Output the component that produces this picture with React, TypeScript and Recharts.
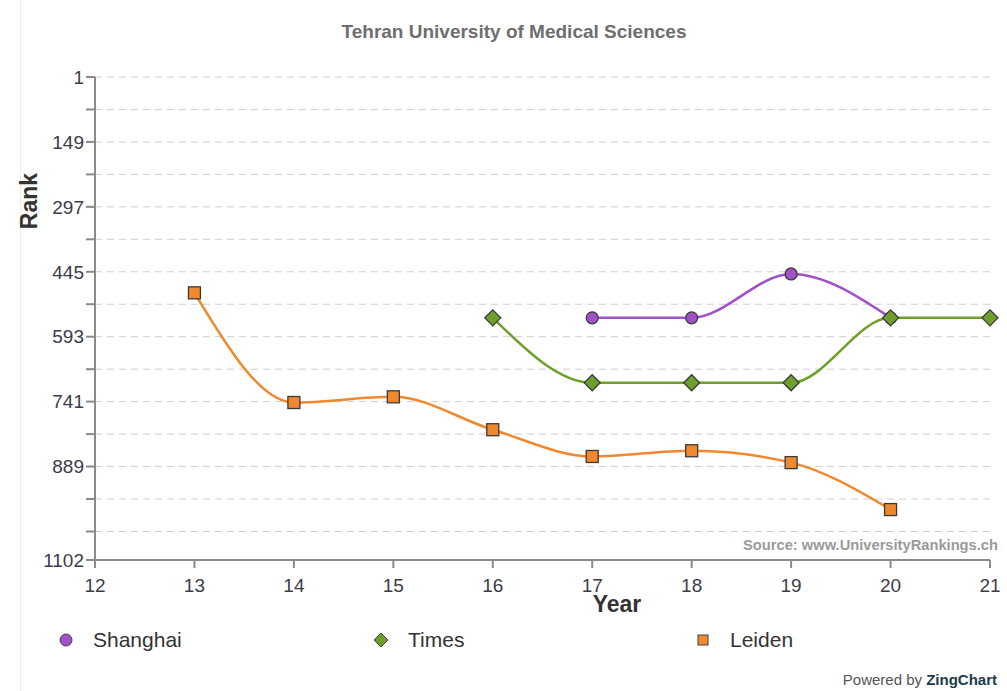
import React from 'react';
import { LineChart, Line, XAxis, YAxis, CartesianGrid } from 'recharts';

// years on the x axis
const yearTicks = [12, 13, 14, 15, 16, 17, 18, 19, 20, 21];

// rank axis: labelled ticks plus the unlabelled ones in between
const rankLabels = [1, 149, 297, 445, 593, 741, 889, 1102];
const rankTicks = [1, 75, 149, 223, 297, 371, 445, 519, 593, 667, 741, 815, 889, 963, 1037, 1102];

const shanghaiYears = [17, 18, 19, 20];
const shanghaiRanks = [550, 550, 450, 550];

const timesYears = [16, 17, 18, 19, 20, 21];
const timesRanks = [550, 698, 698, 698, 550, 550];

const leidenYears = [13, 14, 15, 16, 17, 18, 19, 20];
const leidenRanks = [493, 743, 730, 805, 866, 853, 880, 987];

const toRows = (years: number[], ranks: number[]) =>
    years.map((year, i) => ({ year, rank: ranks[i] }));

const PURPLE = '#a050c8';
const GREEN = '#6e9f2c';
const ORANGE = '#f0892d';
const FONT = '"Liberation Sans", Arial, sans-serif';

const circleDot = (props: any) => (
    <circle key={props.key ?? props.index} cx={props.cx} cy={props.cy} r={6}
        fill={PURPLE} stroke="#3a3a3a" strokeWidth={1.3} />
);
const diamondDot = (props: any) => {
    const { cx, cy } = props;
    const s = 8;
    return (
        <path key={props.key ?? props.index}
            d={`M${cx},${cy - s}L${cx + s},${cy}L${cx},${cy + s}L${cx - s},${cy}Z`}
            fill={GREEN} stroke="#3a3a3a" strokeWidth={1.3} />
    );
};
const squareDot = (props: any) => (
    <rect key={props.key ?? props.index} x={props.cx - 6} y={props.cy - 6} width={12} height={12}
        fill={ORANGE} stroke="#3a3a3a" strokeWidth={1.3} />
);

const legendItems = [
    { name: 'Shanghai', x: 58, color: PURPLE, shape: 'circle' },
    { name: 'Times', x: 373, color: GREEN, shape: 'diamond' },
    { name: 'Leiden', x: 695, color: ORANGE, shape: 'square' },
];

const LegendIcon = ({ shape, color }: { shape: string; color: string }) => (
    <svg width={16} height={16} style={{ display: 'block' }}>
        {shape === 'circle' && <circle cx={8} cy={8} r={6} fill={color} stroke="#444" strokeWidth={1} />}
        {shape === 'diamond' && <path d="M8,1L15,8L8,15L1,8Z" fill={color} stroke="#444" strokeWidth={1} />}
        {shape === 'square' && <rect x={3} y={3} width={10} height={10} fill={color} stroke="#444" strokeWidth={1} />}
    </svg>
);

export default function App() {
    return (
        <div style={{ position: 'absolute', left: 0, top: 0, width: 1007, height: 691, background: '#fff', fontFamily: FONT, overflow: 'hidden' }}>
            <div style={{ position: 'absolute', left: 20, top: 0, width: 1, height: 691, background: '#eeeeee' }} />
            <LineChart width={1007} height={691} margin={{ top: 77, right: 17, left: 20, bottom: 101 }}>
                <CartesianGrid vertical={false} stroke="#cfcfcf" strokeDasharray="7 5" />
                <XAxis dataKey="year" type="number" domain={[12, 21]} ticks={yearTicks}
                    allowDuplicatedCategory={false} height={30}
                    stroke="#8a8a8a" strokeWidth={2} tickSize={8} tickMargin={11}
                    tick={{ fill: '#3c3c4a', fontSize: 19, fontFamily: FONT }} />
                <YAxis type="number" domain={[1, 1102]} reversed ticks={rankTicks} interval={0}
                    width={75} stroke="#8a8a8a" strokeWidth={2} tickSize={9} tickMargin={2}
                    tick={{ fill: '#3c3c4a', fontSize: 19, fontFamily: FONT }}
                    tickFormatter={(v: number) => (rankLabels.includes(v) ? String(v) : '')} />
                <Line data={toRows(shanghaiYears, shanghaiRanks)} dataKey="rank" type="monotone"
                    stroke={PURPLE} strokeWidth={2.5} dot={circleDot} isAnimationActive={false} />
                <Line data={toRows(timesYears, timesRanks)} dataKey="rank" type="monotone"
                    stroke={GREEN} strokeWidth={2.5} dot={diamondDot} isAnimationActive={false} />
                <Line data={toRows(leidenYears, leidenRanks)} dataKey="rank" type="monotone"
                    stroke={ORANGE} strokeWidth={2.5} dot={squareDot} isAnimationActive={false} />
            </LineChart>

            <div style={{ position: 'absolute', left: 514, top: 32, transform: 'translate(-50%, -50%)', whiteSpace: 'nowrap', fontSize: 19, fontWeight: 'bold', color: '#6e6e6e' }}>
                Tehran University of Medical Sciences
            </div>
            <div style={{ position: 'absolute', left: 29, top: 201, transform: 'translate(-50%, -50%) rotate(-90deg)', fontSize: 23, fontWeight: 'bold', color: '#333', whiteSpace: 'nowrap' }}>
                Rank
            </div>
            <div style={{ position: 'absolute', left: 617, top: 604, transform: 'translate(-50%, -50%)', fontSize: 23, fontWeight: 'bold', color: '#333' }}>
                Year
            </div>
            <div style={{ position: 'absolute', right: 9, top: 537, fontSize: 14.7, fontWeight: 'bold', color: '#9a9a9a' }}>
                Source: www.UniversityRankings.ch
            </div>
            {legendItems.map(item => (
                <div key={item.name} style={{ position: 'absolute', left: item.x, top: 628, display: 'flex', alignItems: 'center', gap: 19, fontSize: 21, color: '#333' }}>
                    <LegendIcon shape={item.shape} color={item.color} />
                    <span>{item.name}</span>
                </div>
            ))}
            <div style={{ position: 'absolute', right: 10, top: 671, fontSize: 15, color: '#555' }}>
                Powered by <b style={{ color: '#1c3b4a' }}>ZingChart</b>
            </div>
        </div>
    );
}
